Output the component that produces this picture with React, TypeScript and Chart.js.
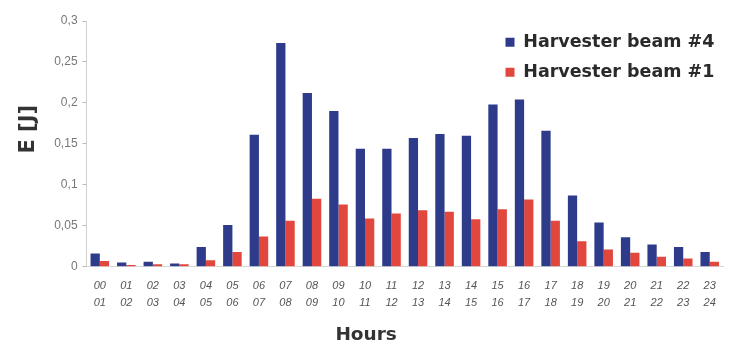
import React, { useEffect, useRef } from "react";
import { Chart, registerables } from "chart.js";

Chart.register(...registerables);

const hourLabels: string[][] = [
  ["00", "01"], ["01", "02"], ["02", "03"], ["03", "04"], ["04", "05"], ["05", "06"],
  ["06", "07"], ["07", "08"], ["08", "09"], ["09", "10"], ["10", "11"], ["11", "12"],
  ["12", "13"], ["13", "14"], ["14", "15"], ["15", "16"], ["16", "17"], ["17", "18"],
  ["18", "19"], ["19", "20"], ["20", "21"], ["21", "22"], ["22", "23"], ["23", "24"],
];

const beam4: number[] = [
  0.016, 0.005, 0.006, 0.004, 0.024, 0.051, 0.161, 0.273, 0.212, 0.190, 0.144, 0.144,
  0.157, 0.162, 0.160, 0.198, 0.204, 0.166, 0.087, 0.054, 0.036, 0.027, 0.024, 0.018,
];

const beam1: number[] = [
  0.007, 0.002, 0.003, 0.003, 0.008, 0.018, 0.037, 0.056, 0.083, 0.076, 0.059, 0.065,
  0.069, 0.067, 0.058, 0.070, 0.082, 0.056, 0.031, 0.021, 0.017, 0.012, 0.010, 0.006,
];

const yTickLabels: string[] = ["0", "0,05", "0,1", "0,15", "0,2", "0,25", "0,3"];

const seriesNames: string[] = ["Harvester beam #4", "Harvester beam #1"];

const xTitle = "Hours";
const yTitle = "E [J]";

const BOLD = "'DejaVu Sans', 'Liberation Sans', sans-serif";
const PLAIN = "'Liberation Sans', Arial, sans-serif";

const legendShift = {
  id: "legendShift",
  afterLayout(chart: any) {
    const lg = chart.legend;
    if (lg) {
      lg.left = chart.chartArea.right - 230;
      lg.top = chart.chartArea.top;
    }
  },
};

export default function App() {
  const ref = useRef<HTMLCanvasElement | null>(null);

  useEffect(() => {
    document.body.style.margin = "0";
    const ctx = ref.current;
    if (!ctx) return;
    const chart = new Chart(ctx, {
      type: "bar",
      data: {
        labels: hourLabels,
        datasets: [
          { label: seriesNames[0], data: beam4, backgroundColor: "#2e3b8b" },
          { label: seriesNames[1], data: beam1, backgroundColor: "#e2473d" },
        ],
      },
      plugins: [legendShift],
      options: {
        animation: false,
        responsive: false,
        maintainAspectRatio: false,
        layout: { padding: { left: 16, right: 7, top: 21, bottom: 4 } },
        datasets: { bar: { categoryPercentage: 0.7, barPercentage: 1.0 } },
        plugins: {
          tooltip: { enabled: false },
          legend: {
            position: "chartArea",
            align: "start",
            labels: {
              boxWidth: 9,
              boxHeight: 9,
              padding: 12.5,
              color: "#2a2a2a",
              font: { family: BOLD, size: 17.5, weight: "bold" },
            },
          },
        },
        scales: {
          x: {
            grid: { display: false, drawOnChartArea: false, drawTicks: false },
            border: { display: true, color: "#d6d6d6" },
            ticks: {
              color: "#555",
              maxRotation: 0,
              autoSkip: false,
              padding: 11,
              font: { family: PLAIN, size: 11, style: "italic", lineHeight: 1.55 },
            },
            title: {
              display: true,
              text: xTitle + "\u00a0".repeat(12),
              color: "#333",
              padding: { top: 1, bottom: 0 },
              font: { family: BOLD, size: 18.5, weight: "bold" },
            },
          },
          y: {
            min: 0,
            max: 0.3,
            ticks: {
              stepSize: 0.05,
              color: "#777",
              padding: 5,
              font: { family: PLAIN, size: 12 },
              callback: (_v: any, i: number) => yTickLabels[i],
            },
            grid: { drawOnChartArea: false, tickLength: 4, color: "#bbb" },
            border: { display: true, color: "#cfcfcf", dash: [2, 2] },
            title: {
              display: true,
              text: "\u00a0".repeat(4) + yTitle,
              color: "#333",
              padding: { top: 0, bottom: 8 },
              font: { family: BOLD, size: 21, weight: "bold" },
            },
          },
        },
      },
    } as any);
    return () => chart.destroy();
  }, []);

  return (
    <div style={{ width: 730, height: 350, background: "#fff" }}>
      <canvas ref={ref} width={730} height={350} style={{ display: "block" }} />
    </div>
  );
}
